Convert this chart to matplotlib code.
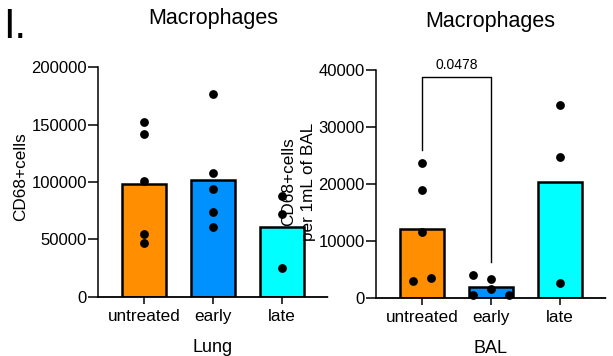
import matplotlib
matplotlib.use("Agg")
import matplotlib.pyplot as plt
import numpy as np

plt.rcParams['font.family'] = ['Liberation Sans', 'DejaVu Sans']

categories = ["untreated", "early", "late"]
colors = ["#FF8F00", "#0091FF", "#00FFFF"]

lung_bars = [98500, 101500, 61000]
lung_points = [
    [152000, 142000, 101000, 54700, 46500],
    [176700, 107600, 94200, 73800, 61000],
    [88100, 72400, 25300],
]
lung_jitter = [[0, 0, 0, 0, 0], [0, 0, 0, 0, 0], [0, 0, 0]]

bal_bars = [12000, 1800, 20300]
bal_points = [
    [23700, 18900, 11500, 2900, 3500],
    [3900, 3200, 1500, 500, 500],
    [33900, 24800, 2600],
]
bal_jitter = [[0, 0, 0, -0.13, 0.13], [-0.26, 0, 0, -0.26, 0.26], [0, 0, 0]]

lung_yticks = [0, 50000, 100000, 150000, 200000]
bal_yticks = [0, 10000, 20000, 30000, 40000]
pvalue_text = "0.0478"
bracket = (38700, 26000, 6200)

W, H = 613, 356
fig = plt.figure(figsize=(W / 100, H / 100), dpi=100)

def px_axes(x0, x1, ytop, ybot):
    return fig.add_axes([x0 / W, 1 - ybot / H, (x1 - x0) / W, (ybot - ytop) / H])

ax1 = px_axes(98, 328, 67.3, 296.7)
ax2 = px_axes(375.7, 606, 70, 297.7)

def draw(ax, bars, points, jitter, yticks, xlabel):
    x = np.arange(len(categories))
    ax.bar(x, bars, width=0.645, color=colors, edgecolor="black", linewidth=1.8, zorder=2)
    for i, (pts, jit) in enumerate(zip(points, jitter)):
        ax.scatter(np.array(jit) + i, pts, s=40, color="black", zorder=3, linewidths=0, clip_on=False)
    ax.set_xlim(-0.672, 2.668)
    ax.set_ylim(yticks[0], yticks[-1])
    ax.set_yticks(yticks)
    ax.set_yticklabels([str(t) for t in yticks])
    ax.set_xticks(x)
    ax.set_xticklabels(categories)
    for s in ("top", "right"):
        ax.spines[s].set_visible(False)
    ax.spines["left"].set_linewidth(1.1)
    ax.spines["bottom"].set_linewidth(1.3)
    ax.spines["bottom"].set_linestyle((0, (1, 1)))
    ax.spines["bottom"].set_zorder(4)
    ax.tick_params(axis="y", length=7.2, width=1.1, pad=0.8, labelsize=12)
    ax.tick_params(axis="x", length=5, width=1.1, pad=4, labelsize=12.3)
    ax.set_xlabel(xlabel, fontsize=13, labelpad=10.5)
    ax.patch.set_alpha(0)

draw(ax1, lung_bars, lung_points, lung_jitter, lung_yticks, "Lung")
draw(ax2, bal_bars, bal_points, bal_jitter, bal_yticks, "BAL")

# significance bracket
top, lleg, rleg = bracket
ax2.plot([0, 0, 1, 1], [lleg, top, top, rleg], color="black", lw=1.0, zorder=3, clip_on=False)
ax2.text(0.5, top + 900, pvalue_text, ha="center", va="bottom", fontsize=10)

# titles and labels
fig.text(213 / W, 1 - 24 / H, "Macrophages", ha="center", va="baseline", fontsize=15.5)
fig.text(490.5 / W, 1 - 27.3 / H, "Macrophages", ha="center", va="baseline", fontsize=15.5)
fig.text(3 / W, 1 - 38 / H, "I.", ha="left", va="baseline", fontsize=30)
fig.text(20.5 / W, 1 - 177 / H, "CD68+cells", rotation=90, ha="center", va="center", fontsize=12.3)
fig.text(298.5 / W, 1 - 182 / H, "CD68+cells\nper 1mL of BAL", rotation=90, ha="center", va="center",
         fontsize=12.3, multialignment="center", linespacing=1.35)

fig.savefig("out.png", dpi=100)
